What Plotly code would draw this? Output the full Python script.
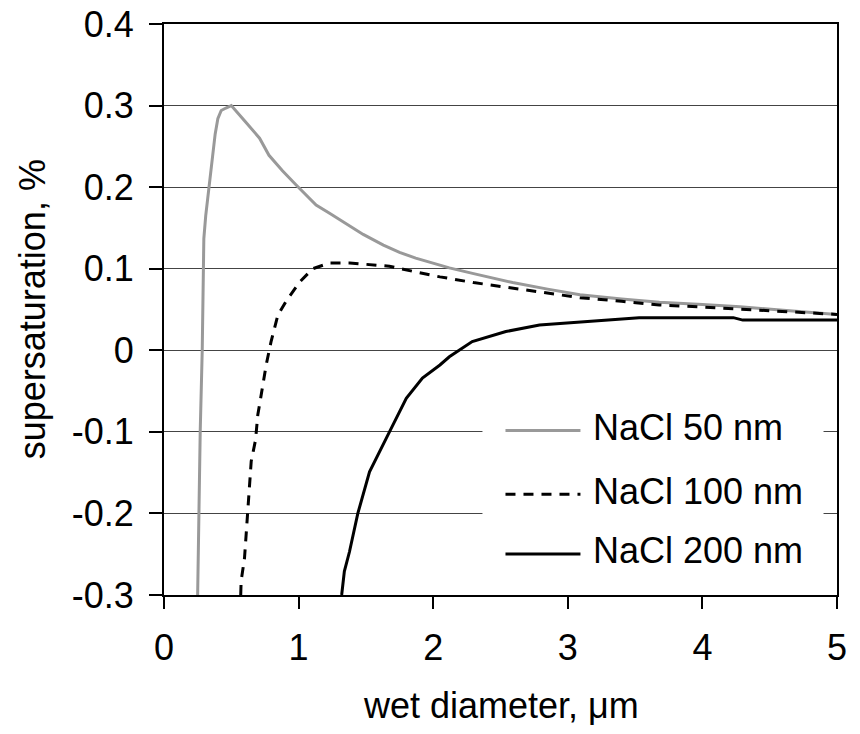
import plotly.graph_objects as go

# Köhler curves: equilibrium supersaturation over a growing NaCl droplet
series_names = ["NaCl 50 nm", "NaCl 100 nm", "NaCl 200 nm"]

d50 = [0.25, 0.259, 0.269, 0.284, 0.288, 0.293, 0.296, 0.31, 0.333, 0.358, 0.38, 0.40,
       0.425, 0.46, 0.50, 0.60, 0.71, 0.78, 0.88, 0.98, 1.06, 1.13, 1.23, 1.33, 1.48,
       1.63, 1.75, 1.87, 2.0, 2.12, 2.3, 2.59, 2.85, 3.09, 3.4, 3.68, 4.0, 4.28, 4.6, 5.0]
s50 = [-0.3, -0.2, -0.1, 0.0, 0.045, 0.055, 0.137, 0.165, 0.198, 0.239, 0.265, 0.284,
       0.294, 0.297, 0.300, 0.281, 0.260, 0.239, 0.220, 0.203, 0.190, 0.178, 0.168, 0.158, 0.142,
       0.129, 0.120, 0.113, 0.107, 0.101, 0.094, 0.083, 0.075, 0.068, 0.063, 0.059, 0.056, 0.0535, 0.049, 0.044]

d100 = [0.570, 0.573, 0.598, 0.611, 0.623, 0.635, 0.648, 0.680, 0.697, 0.730, 0.759, 0.796,
        0.846, 0.91, 1.01, 1.105, 1.23, 1.38, 1.53, 1.675, 1.87, 2.05, 2.3, 2.59, 2.85,
        3.09, 3.4, 3.68, 4.0, 4.28, 4.6, 5.0]
s100 = [-0.3, -0.283, -0.255, -0.226, -0.198, -0.169, -0.136, -0.110, -0.079, -0.047, -0.018, 0.011,
        0.043, 0.061, 0.084, 0.100, 0.107, 0.107, 0.105, 0.103, 0.096, 0.090, 0.083, 0.076, 0.070,
        0.0645, 0.060, 0.0555, 0.053, 0.0506, 0.048, 0.044]

d200 = [1.32, 1.34, 1.378, 1.44, 1.527, 1.60, 1.675, 1.80, 1.92, 2.05, 2.12, 2.29, 2.54,
        2.79, 3.09, 3.53, 4.23, 4.30, 5.0]
s200 = [-0.3, -0.271, -0.247, -0.2, -0.149, -0.124, -0.1, -0.059, -0.034, -0.018, -0.008, 0.0107, 0.023,
        0.031, 0.035, 0.040, 0.040, 0.037, 0.037]

x_ticks = [0, 1, 2, 3, 4, 5]
x_tick_text = ["0", "1", "2", "3", "4", "5"]
y_ticks = [-0.3, -0.2, -0.1, 0, 0.1, 0.2, 0.3, 0.4]
y_tick_text = ["-0.3", "-0.2", "-0.1", "0", "0.1", "0.2", "0.3", "0.4"]

FONT = "Liberation Sans, Arial, Helvetica, sans-serif"
styles = [
    dict(color="#999999", width=3, dash="solid"),
    dict(color="#000000", width=3, dash="10px,8px"),
    dict(color="#000000", width=3, dash="solid"),
]
data = [(d50, s50), (d100, s100), (d200, s200)]

fig = go.Figure()
for name, (xs, ys), st in zip(series_names, data, styles):
    fig.add_trace(go.Scatter(x=xs, y=ys, mode="lines", name=name, line=st,
                             showlegend=False))

# hand-built legend box in the lower right of the plot
shapes = [dict(type="rect", xref="x", yref="y", x0=2.366, x1=4.90, y0=-0.289, y1=-0.059,
               fillcolor="white", line=dict(width=0), layer="above")]
annotations = []
legend_rows = [-0.0984, -0.1765, -0.2496]
for name, st, yrow in zip(series_names, styles, legend_rows):
    shapes.append(dict(type="line", xref="x", yref="y", x0=2.537, x1=3.094, y0=yrow, y1=yrow,
                       line=st, layer="above"))
    annotations.append(dict(x=3.174, y=yrow + 0.004, xref="x", yref="y", text=name,
                            showarrow=False, xanchor="left", yanchor="middle",
                            font=dict(family=FONT, size=36, color="black")))

annotations.append(dict(x=-0.195, y=0.5, xref="paper", yref="paper",
                        text="supersaturation, %", textangle=-90, showarrow=False,
                        xanchor="center", yanchor="middle",
                        font=dict(family=FONT, size=36, color="black")))
annotations.append(dict(x=0.5, y=-0.193, xref="paper", yref="paper",
                        text="wet diameter, \u03bcm", showarrow=False,
                        xanchor="center", yanchor="middle",
                        font=dict(family=FONT, size=36, color="black")))

fig.update_layout(
    width=860, height=734,
    margin=dict(l=164, r=23, t=24, b=139, autoexpand=False),
    paper_bgcolor="white", plot_bgcolor="white",
    font=dict(family=FONT, size=36, color="black"),
    shapes=shapes, annotations=annotations,
    showlegend=False,
)
fig.update_xaxes(range=[0, 5], tickvals=x_ticks, ticktext=x_tick_text, automargin=False,
                 showgrid=False, zeroline=False, showline=True, linecolor="black",
                 linewidth=2, mirror=True, ticks="outside", ticklen=12, tickwidth=1.5,
                 tickcolor="black", ticklabelstandoff=8,
                 tickfont=dict(family=FONT, size=36, color="black"))
fig.update_yaxes(range=[-0.3, 0.4], tickvals=y_ticks, ticktext=y_tick_text, automargin=False,
                 showgrid=True, gridcolor="#444444", gridwidth=1.2, zeroline=False,
                 showline=True, linecolor="black", linewidth=2, mirror=True,
                 ticks="outside", ticklen=13, tickwidth=1.5, tickcolor="black",
                 ticklabelstandoff=8,
                 tickfont=dict(family=FONT, size=36, color="black"))

fig.write_html("out.html")
